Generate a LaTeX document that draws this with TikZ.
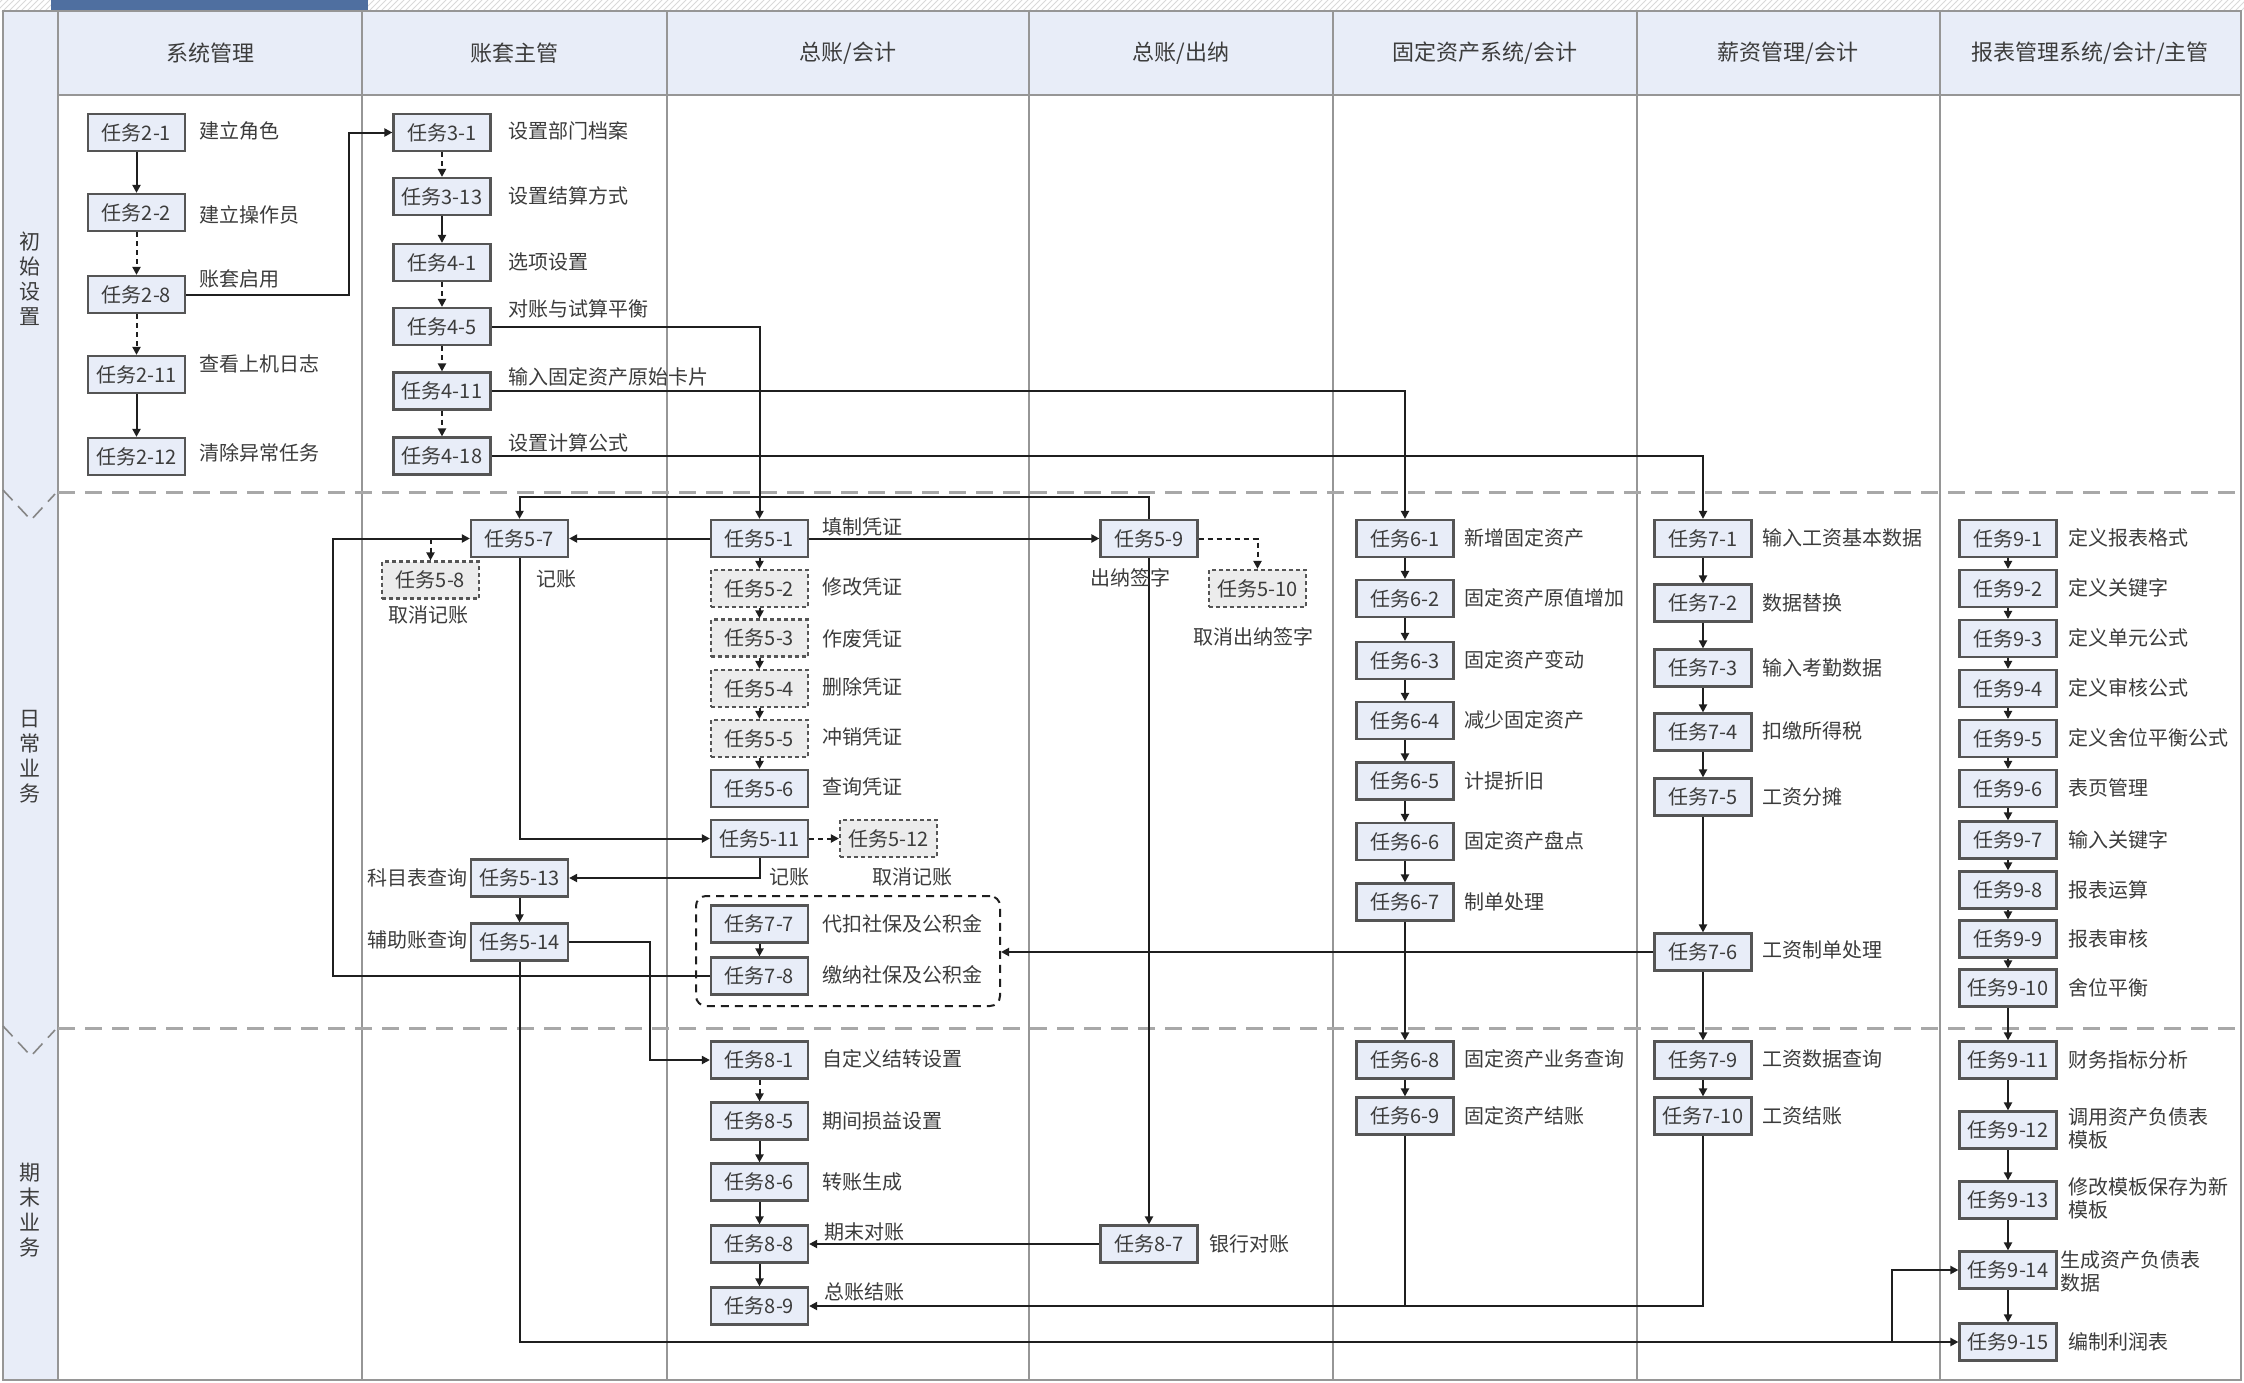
\documentclass[tikz,border=0pt]{standalone}
\usepackage{fontspec}
\newfontfamily\cjk{Noto Sans CJK SC}
\usetikzlibrary{arrows.meta,patterns,calc}
\definecolor{boxfill}{RGB}{232,237,248}
\definecolor{hdrfill}{RGB}{232,237,248}
\definecolor{dfill}{RGB}{236,236,236}
\definecolor{boxline}{RGB}{85,85,85}
\definecolor{gridc}{RGB}{150,150,150}
\definecolor{txt}{RGB}{60,60,60}
\definecolor{tabc}{RGB}{79,111,160}
\definecolor{sepc}{RGB}{168,168,168}
\pgfdeclarelayer{bg}
\pgfsetlayers{bg,main}
\tikzset{
  task/.style={draw=boxline, line width=1.1pt, fill=boxfill, minimum width=48.5pt, minimum height=18.5pt, inner sep=1pt, font=\cjk\fontsize{10}{12}\selectfont, text=txt},
  dtask/.style={task, fill=dfill, dash pattern=on 2pt off 1.5pt},
  lbl/.style={font=\cjk\fontsize{10}{12}\selectfont, text=txt, inner sep=0pt, anchor=west},
  clbl/.style={lbl, anchor=center},
  elbl/.style={lbl, anchor=east},
  mlbl/.style={lbl, align=left, font=\cjk\fontsize{10}{11.5}\selectfont},
  hdr/.style={font=\cjk\fontsize{11}{13}\selectfont, text=txt, inner sep=0pt},
  phase/.style={font=\cjk\fontsize{10.5}{12.5}\selectfont, text=txt, align=center, inner sep=0pt},
  gridline/.style={draw=gridc, line width=1.3pt},
  phsep/.style={draw=sepc, line width=1.5pt, dash pattern=on 8.5pt off 5pt},
  vmark/.style={draw=sepc!80!black, line width=0.8pt, dash pattern=on 7pt off 4pt},
  conn/.style={draw=black!88, line width=1pt, -{Triangle[length=4pt,width=4pt]}},
  dconn/.style={conn, dash pattern=on 2.5pt off 2pt},
  plain/.style={draw=black!88, line width=1pt},
  grpbox/.style={draw=black!88, line width=1pt, dash pattern=on 4pt off 3pt, rounded corners=5pt, minimum width=152pt, minimum height=55pt, inner sep=0pt}
}
\begin{document}
\begin{tikzpicture}[x=0.5pt,y=-0.5pt]
\useasboundingbox (0,0) rectangle (2244,1382);
\begin{pgfonlayer}{bg}
\fill[white] (0,0) rectangle (2244,1382);
\fill[pattern=north east lines, pattern color=gray!30] (0,0) rectangle (2244,11);
\fill[tabc] (51,0) rectangle (368,10);
\fill[hdrfill] (3,11) rectangle (58,1380);
\fill[hdrfill] (58,11) rectangle (2241,95);
\draw[gridline] (3,11) rectangle (2241,1380);
\draw[gridline] (58,11) -- (58,1380);
\draw[gridline] (58,95) -- (2241,95);
\foreach \x in {362,667,1029,1333,1637,1940} \draw[gridline] (\x,11) -- (\x,1380);
\draw[phsep] (58,492) -- (2241,492);
\draw[phsep] (58,1028) -- (2241,1028);
\draw[vmark] (3,490) -- (31,520) -- (55,494);
\draw[vmark] (3,1026) -- (31,1056) -- (55,1030);
\end{pgfonlayer}

% headers
\node[hdr] (h1) at (210,53) {系统管理};
\node[hdr] (h2) at (514,53) {账套主管};
\node[hdr] (h3) at (848,53) {总账/会计};
\node[hdr] (h4) at (1181,53) {总账/出纳};
\node[hdr] (h5) at (1485,53) {固定资产系统/会计};
\node[hdr] (h6) at (1788,53) {薪资管理/会计};
\node[hdr] (h7) at (2090,53) {报表管理系统/会计/主管};
\node[phase] (p1) at (30,279) {初\\始\\设\\置};
\node[phase] (p2) at (30,757) {日\\常\\业\\务};
\node[phase] (p3) at (30,1210) {期\\末\\业\\务};

% column A
\node[task] (t21) at (136.5,132.5) {任务2-1};
\node[task] (t22) at (136.5,212.5) {任务2-2};
\node[task] (t28) at (136.5,294.5) {任务2-8};
\node[task] (t211) at (136.5,374.5) {任务2-11};
\node[task] (t212) at (136.5,456.5) {任务2-12};
\node[lbl] (l21) at (199,131) {建立角色};
\node[lbl] (l22) at (199,215) {建立操作员};
\node[lbl] (l28) at (199,279) {账套启用};
\node[lbl] (l211) at (199,364) {查看上机日志};
\node[lbl] (l212) at (199,453) {清除异常任务};

% column B
\node[task] (t31) at (442,132.5) {任务3-1};
\node[task] (t313) at (442,196.5) {任务3-13};
\node[task] (t41) at (442,262.5) {任务4-1};
\node[task] (t45) at (442,326.5) {任务4-5};
\node[task] (t411) at (442,391) {任务4-11};
\node[task] (t418) at (442,456) {任务4-18};
\node[lbl] (l31) at (508,131) {设置部门档案};
\node[lbl] (l313) at (508,196) {设置结算方式};
\node[lbl] (l41) at (508,262) {选项设置};
\node[lbl] (l45) at (508,309) {对账与试算平衡};
\node[lbl] (l411) at (508,377) {输入固定资产原始卡片};
\node[lbl] (l418) at (508,443) {设置计算公式};

\node[task] (t57) at (519.5,538.5) {任务5-7};
\node[dtask] (t58) at (430.5,580) {任务5-8};
\node[task] (t513) at (519.5,878) {任务5-13};
\node[task] (t514) at (519.5,942) {任务5-14};
\node[lbl] (l57) at (536,579) {记账};
\node[clbl] (l58) at (428,615) {取消记账};
\node[elbl] (l513) at (468,878) {科目表查询};
\node[elbl] (l514) at (468,940) {辅助账查询};

% column C
\node[grpbox] (grp) at (848,951) {};
\node[task] (t51) at (759.5,538.5) {任务5-1};
\node[dtask] (t52) at (759.5,588.5) {任务5-2};
\node[dtask] (t53) at (759.5,638) {任务5-3};
\node[dtask] (t54) at (759.5,688.5) {任务5-4};
\node[dtask] (t55) at (759.5,738.5) {任务5-5};
\node[task] (t56) at (759.5,788.5) {任务5-6};
\node[task] (t511) at (759.5,838.5) {任务5-11};
\node[dtask] (t512) at (888.5,838.5) {任务5-12};
\node[task] (t77) at (759.5,924) {任务7-7};
\node[task] (t78) at (759.5,976) {任务7-8};
\node[task] (t81) at (759.5,1060) {任务8-1};
\node[task] (t85) at (759.5,1121) {任务8-5};
\node[task] (t86) at (759.5,1182) {任务8-6};
\node[task] (t88) at (759.5,1244) {任务8-8};
\node[task] (t89) at (759.5,1306) {任务8-9};
\node[lbl] (l51) at (822,527) {填制凭证};
\node[lbl] (l52) at (822,587) {修改凭证};
\node[lbl] (l53) at (822,639) {作废凭证};
\node[lbl] (l54) at (822,687) {删除凭证};
\node[lbl] (l55) at (822,737) {冲销凭证};
\node[lbl] (l56) at (822,787) {查询凭证};
\node[clbl] (l511) at (789,877) {记账};
\node[clbl] (l512) at (912,877) {取消记账};
\node[lbl] (l77) at (822,924) {代扣社保及公积金};
\node[lbl] (l78) at (822,975) {缴纳社保及公积金};
\node[lbl] (l81) at (822,1059) {自定义结转设置};
\node[lbl] (l85) at (822,1121) {期间损益设置};
\node[lbl] (l86) at (822,1182) {转账生成};
\node[lbl] (l88) at (824,1232) {期末对账};
\node[lbl] (l89) at (824,1292) {总账结账};

% column D
\node[task] (t59) at (1149,538.5) {任务5-9};
\node[dtask] (t510) at (1257.5,588.5) {任务5-10};
\node[task] (t87) at (1149,1244) {任务8-7};
\node[clbl] (l59) at (1130,578) {出纳签字};
\node[clbl] (l510) at (1253,637) {取消出纳签字};
\node[lbl] (l87) at (1209,1244) {银行对账};

% column E
\node[task] (t61) at (1405,538.5) {任务6-1};
\node[task] (t62) at (1405,598.5) {任务6-2};
\node[task] (t63) at (1405,660.5) {任务6-3};
\node[task] (t64) at (1405,720.5) {任务6-4};
\node[task] (t65) at (1405,781) {任务6-5};
\node[task] (t66) at (1405,841.5) {任务6-6};
\node[task] (t67) at (1405,902) {任务6-7};
\node[task] (t68) at (1405,1060) {任务6-8};
\node[task] (t69) at (1405,1116) {任务6-9};
\node[lbl] (l61) at (1464,538) {新增固定资产};
\node[lbl] (l62) at (1464,598) {固定资产原值增加};
\node[lbl] (l63) at (1464,660) {固定资产变动};
\node[lbl] (l64) at (1464,720) {减少固定资产};
\node[lbl] (l65) at (1464,781) {计提折旧};
\node[lbl] (l66) at (1464,841) {固定资产盘点};
\node[lbl] (l67) at (1464,902) {制单处理};
\node[lbl] (l68) at (1464,1059) {固定资产业务查询};
\node[lbl] (l69) at (1464,1116) {固定资产结账};

% column F
\node[task] (t71) at (1703,538.5) {任务7-1};
\node[task] (t72) at (1703,603) {任务7-2};
\node[task] (t73) at (1703,668) {任务7-3};
\node[task] (t74) at (1703,732) {任务7-4};
\node[task] (t75) at (1703,797) {任务7-5};
\node[task] (t76) at (1703,952) {任务7-6};
\node[task] (t79) at (1703,1060) {任务7-9};
\node[task] (t710) at (1703,1116) {任务7-10};
\node[lbl] (l71) at (1762,538) {输入工资基本数据};
\node[lbl] (l72) at (1762,603) {数据替换};
\node[lbl] (l73) at (1762,668) {输入考勤数据};
\node[lbl] (l74) at (1762,731) {扣缴所得税};
\node[lbl] (l75) at (1762,797) {工资分摊};
\node[lbl] (l76) at (1762,950) {工资制单处理};
\node[lbl] (l79) at (1762,1059) {工资数据查询};
\node[lbl] (l710) at (1762,1116) {工资结账};

% column G
\node[task] (t91) at (2008,538.5) {任务9-1};
\node[task] (t92) at (2008,588.5) {任务9-2};
\node[task] (t93) at (2008,638.5) {任务9-3};
\node[task] (t94) at (2008,688.5) {任务9-4};
\node[task] (t95) at (2008,738.5) {任务9-5};
\node[task] (t96) at (2008,788.5) {任务9-6};
\node[task] (t97) at (2008,840) {任务9-7};
\node[task] (t98) at (2008,890) {任务9-8};
\node[task] (t99) at (2008,939) {任务9-9};
\node[task] (t910) at (2008,988) {任务9-10};
\node[task] (t911) at (2008,1060) {任务9-11};
\node[task] (t912) at (2008,1130) {任务9-12};
\node[task] (t913) at (2008,1200) {任务9-13};
\node[task] (t914) at (2008,1270) {任务9-14};
\node[task] (t915) at (2008,1342) {任务9-15};
\node[lbl] (l91) at (2068,538) {定义报表格式};
\node[lbl] (l92) at (2068,588) {定义关键字};
\node[lbl] (l93) at (2068,638) {定义单元公式};
\node[lbl] (l94) at (2068,688) {定义审核公式};
\node[lbl] (l95) at (2068,738) {定义舍位平衡公式};
\node[lbl] (l96) at (2068,788) {表页管理};
\node[lbl] (l97) at (2068,840) {输入关键字};
\node[lbl] (l98) at (2068,890) {报表运算};
\node[lbl] (l99) at (2068,939) {报表审核};
\node[lbl] (l910) at (2068,988) {舍位平衡};
\node[lbl] (l911) at (2068,1060) {财务指标分析};
\node[mlbl] (l912) at (2068,1128) {调用资产负债表\\模板};
\node[mlbl] (l913) at (2068,1198) {修改模板保存为新\\模板};
\node[mlbl] (l914) at (2060,1271) {生成资产负债表\\数据};
\node[lbl] (l915) at (2068,1342) {编制利润表};

\begin{pgfonlayer}{bg}
\draw[conn] (t21) -- (t22);
\draw[dconn] (t22) -- (t28);
\draw[dconn] (t28) -- (t211);
\draw[conn] (t211) -- (t212);
\draw[conn] (t28.east) -- ++(163,0) |- (t31.west);
\draw[dconn] (t31) -- (t313);
\draw[conn] (t313) -- (t41);
\draw[dconn] (t41) -- (t45);
\draw[dconn] (t45) -- (t411);
\draw[dconn] (t411) -- (t418);
\draw[conn] (t45.east) -| (t51.north);
\draw[conn] (t411.east) -| (t61.north);
\draw[conn] (t418.east) -| (t71.north);
\draw[conn] (t59.north) -- ++(0,-22) -| (t57.north);
\draw[conn] (t51.west) -- (t57.east);
\draw[conn] (t51.east) -- (t59.west);
\draw[conn] (t51) -- (t52);
\draw[conn] (t52) -- (t53);
\draw[conn] (t53) -- (t54);
\draw[conn] (t54) -- (t55);
\draw[conn] (t55) -- (t56);
\draw[conn] (t78.west) -- ++(-377,0) |- (t57.west);
\draw[dconn] (t57.west -| t58.north) -- (t58.north);
\draw[conn] (t57.south) |- (t511.west);
\draw[dconn] (t511) -- (t512);
\draw[conn] (t511.south) |- (t513.east);
\draw[conn] (t513) -- (t514);
\draw[conn] (t514.east) -- ++(81,0) |- (t81.west);
\draw[conn] (t514.south) |- (t915.west);
\draw[conn] ($(t915.west)+(-66,0)$) |- (t914.west);
\draw[dconn] (t59.east) -| (t510.north);
\draw[conn] (t59.south) -- (t87.north);
\draw[conn] (t61) -- (t62);
\draw[conn] (t62) -- (t63);
\draw[conn] (t63) -- (t64);
\draw[conn] (t64) -- (t65);
\draw[conn] (t65) -- (t66);
\draw[conn] (t66) -- (t67);
\draw[conn] (t67) -- (t68);
\draw[conn] (t68) -- (t69);
\draw[plain] (t69.south) -- (t69.south |- t89.east);
\draw[conn] (t710.south) |- (t89.east);
\draw[conn] (t71) -- (t72);
\draw[conn] (t72) -- (t73);
\draw[conn] (t73) -- (t74);
\draw[conn] (t74) -- (t75);
\draw[conn] (t75) -- (t76);
\draw[conn] (t76) -- (t79);
\draw[conn] (t79) -- (t710);
\draw[conn] (t76.west) -- (t76.west -| grp.east);
\draw[conn] (t77) -- (t78);
\draw[dconn] (t81) -- (t85);
\draw[conn] (t85) -- (t86);
\draw[conn] (t86) -- (t88);
\draw[conn] (t88) -- (t89);
\draw[conn] (t87.west) -- (t88.east);
\draw[conn] (t91) -- (t92);
\draw[conn] (t92) -- (t93);
\draw[conn] (t93) -- (t94);
\draw[conn] (t94) -- (t95);
\draw[conn] (t95) -- (t96);
\draw[conn] (t96) -- (t97);
\draw[conn] (t97) -- (t98);
\draw[conn] (t98) -- (t99);
\draw[conn] (t99) -- (t910);
\draw[conn] (t910) -- (t911);
\draw[conn] (t911) -- (t912);
\draw[conn] (t912) -- (t913);
\draw[conn] (t913) -- (t914);
\draw[conn] (t914) -- (t915);
\end{pgfonlayer}
\end{tikzpicture}
\end{document}
